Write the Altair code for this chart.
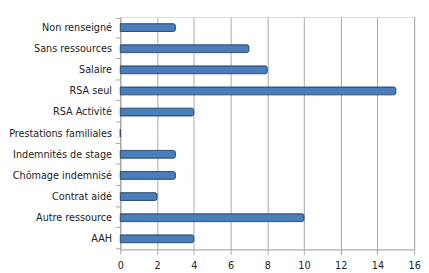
import altair as alt
import pandas as pd

categories = ["Non renseigné", "Sans ressources", "Salaire", "RSA seul", "RSA Activité",
              "Prestations familiales", "Indemnités de stage", "Chômage indemnisé",
              "Contrat aidé", "Autre ressource", "AAH"]
values = [3, 7, 8, 15, 4, 0, 3, 3, 2, 10, 4]
x_ticks = [0, 2, 4, 6, 8, 10, 12, 14, 16]

df = pd.DataFrame({"cat": categories, "val": values})

font = "Liberation Sans Narrow, DejaVu Sans Condensed, sans-serif"

chart = alt.Chart(df).mark_bar(
    height=8, color="#4A7EBB", stroke="#2C4D75", strokeWidth=1, cornerRadiusEnd=2
).encode(
    x=alt.X("val:Q", scale=alt.Scale(domain=[0, 16], nice=False),
            axis=alt.Axis(values=x_ticks, title=None, grid=True, gridColor="#A6A6A6",
                          domainColor="#A6A6A6", tickColor="#A6A6A6", tickSize=5,
                          labelFont=font, labelFontSize=11, labelColor="#222222",
                          labelPadding=6, labelFlush=False)),
    y=alt.Y("cat:N", sort=categories,
            axis=alt.Axis(title=None, domainColor="#A6A6A6", tickColor="#A6A6A6",
                          tickBand="extent", tickSize=5, labelFont=font, labelFontSize=11,
                          labelColor="#222222", labelPadding=4, labelLimit=200)),
).properties(
    width=301, height=238
).configure_view(stroke=None).configure(padding={"left": 0, "top": 0, "right": 0, "bottom": 0})

chart.save("out.html", embed_options={"renderer": "svg", "actions": False})
